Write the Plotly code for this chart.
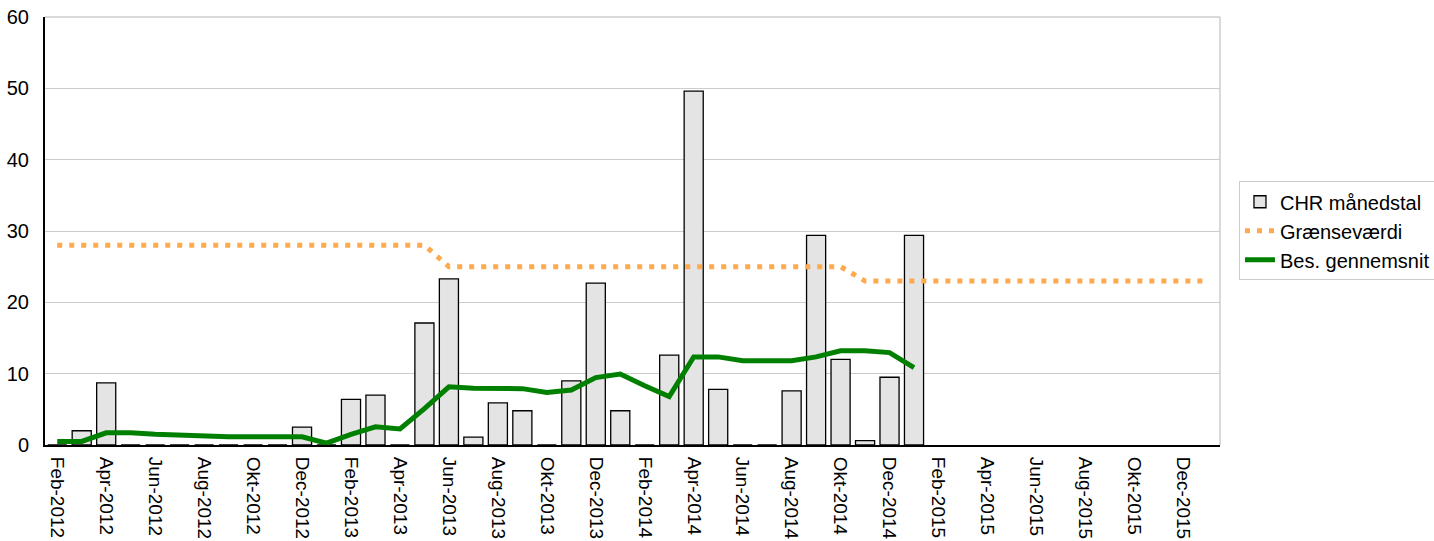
import plotly.graph_objects as go

months = ["Jan", "Feb", "Mar", "Apr", "Maj", "Jun", "Jul", "Aug", "Sep", "Okt", "Nov", "Dec"]
categories = []
for y in range(2012, 2017):
    for m in range(12):
        if (y == 2012 and m == 0):
            continue
        if y == 2016 and m > 0:
            break
        categories.append(f"{months[m]}-{y}")

# CHR månedstal (Feb-2012 .. Jan-2015), None afterwards
chr_values = [0, 2.0, 8.7, 0, 0, 0, 0, 0, 0, 0, 2.5, 0,
              6.4, 7.0, 0, 17.1, 23.3, 1.1, 5.9, 4.8, 0, 9.0, 22.7, 4.8,
              0, 12.6, 49.6, 7.8, 0, 0, 7.6, 29.4, 12.0, 0.6, 9.5, 29.4]
chr_values = chr_values + [None] * (len(categories) - len(chr_values))

graense = [28] * 16 + [25] * 17 + [23] * 15

bes_gennemsnit = [0.5, 0.5, 1.7, 1.7, 1.5, 1.4, 1.15, 1.15, 1.15, 1.15, 1.15, 0.25,
                  1.5, 2.55, 2.25, 5.1, 8.15, 7.95, 7.9, 7.9, 7.35, 7.7, 9.45, 9.95,
                  8.3, 6.8, 12.35, 12.35, 11.8, 11.8, 11.8, 12.35, 13.2, 13.2, 12.95, 10.85]
bes_gennemsnit = bes_gennemsnit + [None] * (len(categories) - len(bes_gennemsnit))

tick_labels = categories[::2]

font_family = "Liberation Sans, Arial, sans-serif"

fig = go.Figure()
fig.add_trace(go.Bar(
    x=categories, y=chr_values, name="CHR månedstal", legendgroup="a",
    marker=dict(color="#e4e4e4", line=dict(color="#000000", width=1.3)),
))
fig.add_trace(go.Scatter(
    x=categories, y=graense, name="Grænseværdi", mode="lines", legendgroup="b",
    line=dict(color="#FFA94D", width=5, dash="5px,7px"),
))
fig.add_trace(go.Scatter(
    x=categories, y=bes_gennemsnit, name="Bes. gennemsnit", mode="lines", legendgroup="c",
    line=dict(color="#008000", width=5),
    connectgaps=False,
))

fig.update_layout(
    width=1434, height=541,
    margin=dict(l=45, r=214, t=17, b=96, autoexpand=False),
    paper_bgcolor="white", plot_bgcolor="white",
    font=dict(family=font_family, size=20, color="#000000"),
    bargap=0.22,
    showlegend=True,
    legend=dict(
        xref="container", yref="container",
        x=0.864, y=0.665, xanchor="left", yanchor="top",
        bordercolor="#cccccc", borderwidth=1,
        font=dict(size=20), traceorder="normal",
        tracegroupgap=5,
    ),
    shapes=[
        dict(type="line", xref="paper", yref="paper", x0=1, x1=1, y0=0, y1=1,
             line=dict(color="#cccccc", width=1.5)),
        dict(type="line", xref="paper", yref="paper", x0=0, x1=1, y0=1, y1=1,
             line=dict(color="#cccccc", width=1.3), layer="below"),
    ],
)
fig.update_xaxes(
    type="category", categoryorder="array", categoryarray=categories,
    tickmode="array", tickvals=tick_labels, ticktext=tick_labels,
    tickangle=90, ticks="", showgrid=False,
    showline=True, linecolor="#000000", linewidth=2,
    ticklabelstandoff=6, automargin=False, layer="above traces",
    ticklabeloverflow="allow",
    tickfont=dict(size=19),
)
fig.update_yaxes(
    range=[0, 60], tickvals=[0, 10, 20, 30, 40, 50, 60],
    showgrid=True, gridcolor="#cccccc", gridwidth=1.3,
    showline=True, linecolor="#000000", linewidth=2,
    ticks="", ticklabelstandoff=10, zeroline=False, automargin=False,
    ticklabeloverflow="allow",
    tickfont=dict(size=20),
)

fig.write_html("out.html", config={"displayModeBar": False},
               post_script="document.body.style.margin='0';")
